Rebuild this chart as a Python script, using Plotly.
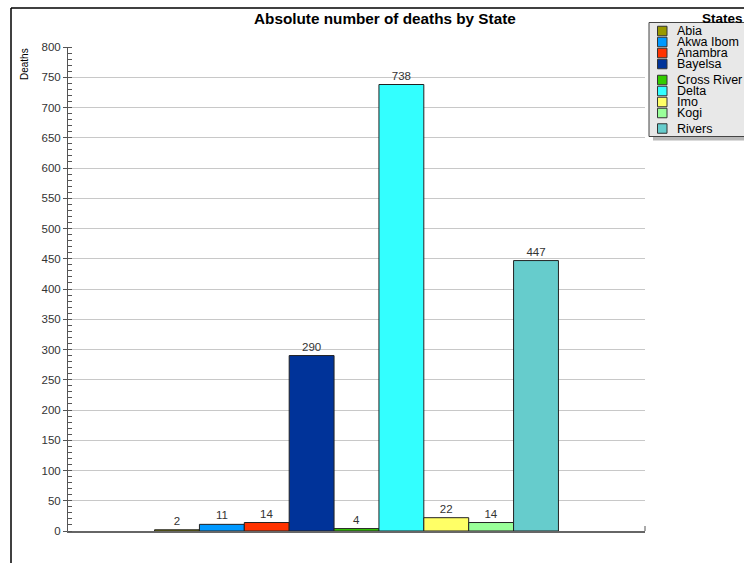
import plotly.graph_objects as go

# --- data -------------------------------------------------------------
states = ["Abia", "Akwa Ibom", "Anambra", "Bayelsa", "Cross River",
          "Delta", "Imo", "Kogi", "Rivers"]
deaths = [2, 11, 14, 290, 4, 738, 22, 14, 447]
colors = ["#999900", "#0099ff", "#ff3300", "#003399", "#33cc00",
          "#33ffff", "#ffff66", "#99ff99", "#66cccc"]
y_ticks = list(range(0, 801, 50))

# --- page geometry (pixels) -------------------------------------------
W, H = 744, 563
L, R, T, B = 68, 99, 47, 32
PW, PH = W - L - R, H - T - B


def px(x):
    return (x - L) / PW


def py(y):
    return (H - B - y) / PH


FONT = "Liberation Sans, Arial, Helvetica, sans-serif"

fig = go.Figure()
for name, val, col in zip(states, deaths, colors):
    fig.add_trace(go.Bar(
        x=["Deaths"], y=[val], name=name,
        marker=dict(color=col, line=dict(color="#222222", width=1)),
        text=[str(val)], textposition="outside",
        textfont=dict(family=FONT, size=11.5, color="#333333"),
        cliponaxis=False, showlegend=False,
    ))

shapes = []
annotations = []

# outer frame (top and left edges)
shapes.append(dict(type="line", xref="paper", yref="paper",
                   x0=px(11), x1=px(W + 5), y0=py(8), y1=py(8),
                   line=dict(color="black", width=1.5)))
shapes.append(dict(type="line", xref="paper", yref="paper",
                   x0=px(11), x1=px(11), y0=py(8), y1=py(H + 5),
                   line=dict(color="black", width=1.5)))

# small end tick at the right of the category axis
shapes.append(dict(type="line", xref="paper", yref="paper",
                   x0=1, x1=1, y0=0, y1=py(H - B - 5),
                   line=dict(color="#555555", width=1)))

# legend box with drop shadow
box_x0, box_y0, box_y1 = 649, 22.5, 136.5
shapes.append(dict(type="rect", xref="paper", yref="paper",
                   x0=px(box_x0 + 4), x1=px(W + 20), y0=py(box_y0 + 4), y1=py(box_y1 + 4),
                   fillcolor="#b8b8b8", line=dict(width=0), layer="above"))
shapes.append(dict(type="rect", xref="paper", yref="paper",
                   x0=px(box_x0), x1=px(W + 20), y0=py(box_y0), y1=py(box_y1),
                   fillcolor="#e8e8e8", line=dict(color="#444444", width=1), layer="above"))

legend_row_y = [31, 42, 53, 64, 80, 91, 102, 113, 128.5]
for name, col, yc in zip(states, colors, legend_row_y):
    shapes.append(dict(type="rect", xref="paper", yref="paper",
                       x0=px(657.5), x1=px(667), y0=py(yc - 4.75), y1=py(yc + 4.75),
                       fillcolor=col, line=dict(color="#333333", width=1), layer="above"))
    annotations.append(dict(xref="paper", yref="paper", x=px(675), y=py(yc),
                            xanchor="left", yanchor="middle", text=name, showarrow=False,
                            font=dict(family=FONT, size=12.5, color="black")))

annotations.append(dict(xref="paper", yref="paper", x=px(700), y=py(18),
                        xanchor="left", yanchor="middle", text="<b>States</b>",
                        showarrow=False, font=dict(family=FONT, size=13.5, color="black")))

# chart title
annotations.append(dict(xref="paper", yref="paper", x=px(385), y=py(18),
                        xanchor="center", yanchor="middle",
                        text="<b>Absolute number of deaths by State</b>", showarrow=False,
                        font=dict(family=FONT, size=15.3, color="black")))

# value axis title
annotations.append(dict(xref="paper", yref="paper", x=px(24), y=py(64),
                        xanchor="center", yanchor="middle", text="Deaths", textangle=-90,
                        showarrow=False, font=dict(family=FONT, size=10, color="black")))

fig.update_layout(
    width=W, height=H,
    margin=dict(l=L, r=R, t=T, b=B, pad=0),
    paper_bgcolor="white", plot_bgcolor="white",
    barmode="group", bargap=0.3, bargroupgap=0,
    showlegend=False,
    shapes=shapes, annotations=annotations,
    font=dict(family=FONT),
    xaxis=dict(showticklabels=False, ticks="", showgrid=False,
               showline=True, linecolor="#666666", linewidth=2,
               fixedrange=True),
    yaxis=dict(range=[0, 800], tickvals=y_ticks, ticks="outside", ticklen=4,
               tickcolor="#555555", tickfont=dict(family=FONT, size=11.5, color="#333333"),
               showgrid=True, gridcolor="#c8c8c8", gridwidth=1,
               showline=True, linecolor="#555555", linewidth=1,
               zeroline=False,
               minor=dict(dtick=10, ticks="inside", ticklen=4, tickcolor="#555555",
                          showgrid=False)),
)

fig.write_html("out.html")
